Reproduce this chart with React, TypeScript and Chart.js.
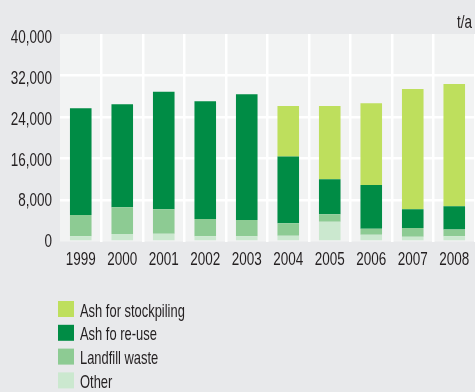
import React, { useEffect, useRef } from "react";
import { Chart, registerables } from "chart.js";

Chart.register(...registerables);

const years = ["1999", "2000", "2001", "2002", "2003", "2004", "2005", "2006", "2007", "2008"];
const other = [1000, 1450, 1500, 1000, 1000, 1100, 3800, 1300, 900, 1000];
const landfill = [4100, 5150, 4700, 3350, 3150, 2400, 1450, 1150, 1700, 1300];
const reuse = [20580, 19850, 22680, 22680, 24230, 12900, 6750, 8450, 3600, 4500];
const stockpiling = [0, 0, 0, 0, 0, 9700, 14100, 15750, 23200, 23550];
const yTicks = [0, 8000, 16000, 24000, 32000, 40000];
const unitLabel = "t/a";

const FONT = "'Liberation Sans', Arial, sans-serif";
const TEXT = "#231f20";

const seriesLabels = ["Other", "Landfill waste", "Ash fo re-use", "Ash for stockpiling"];
const seriesColors = ["#cbe8cf", "#8dcb93", "#008c45", "#bedf5d"];

function drawText(
  ctx: CanvasRenderingContext2D,
  text: string,
  x: number,
  y: number,
  align: CanvasTextAlign,
  sx: number
) {
  ctx.save();
  ctx.translate(x, y);
  ctx.scale(sx, 1);
  ctx.textAlign = align;
  ctx.textBaseline = "alphabetic";
  ctx.fillText(text, 0, 0);
  ctx.restore();
}

const extrasPlugin = {
  id: "extras",
  beforeDraw(chart: any) {
    const { ctx, chartArea } = chart;
    ctx.save();
    ctx.fillStyle = "#f2f3f3";
    ctx.fillRect(chartArea.left, chartArea.top, chartArea.right - chartArea.left, chartArea.bottom - chartArea.top);
    ctx.restore();
  },
  afterDraw(chart: any) {
    const { ctx, chartArea } = chart;
    const xs = chart.scales.x;
    const ys = chart.scales.y;
    ctx.save();
    ctx.font = `19px ${FONT}`;
    ctx.fillStyle = TEXT;
    yTicks.forEach((v) => {
      const y = ys.getPixelForValue(v) + (v / 40000) * 3.5 - 1.2;
      drawText(ctx, v.toLocaleString("en-US"), chartArea.left - 8, y + 6.8, "right", 0.71);
    });
    years.forEach((lab, i) => {
      drawText(ctx, lab, xs.getPixelForValue(i), chartArea.bottom + 23, "center", 0.71);
    });
    drawText(ctx, unitLabel, 457, 28, "left", 0.71);
    const order = [3, 2, 1, 0];
    order.forEach((si, i) => {
      const y = 301 + i * 23.8;
      ctx.fillStyle = seriesColors[si];
      ctx.fillRect(58, y, 16, 16);
      ctx.fillStyle = TEXT;
      drawText(ctx, seriesLabels[si], 80, y + 15.5, "left", 0.68);
    });
    ctx.restore();
  },
};

export default function App() {
  const ref = useRef<HTMLCanvasElement>(null);
  useEffect(() => {
    document.body.style.margin = "0";
    document.body.style.background = "#e8e9eb";
    const data = [other, landfill, reuse, stockpiling];
    const chart = new Chart(ref.current!, {
      type: "bar",
      data: {
        labels: years,
        datasets: data.map((d, i) => ({
          label: seriesLabels[i],
          data: d,
          backgroundColor: seriesColors[i],
          borderWidth: 0,
          categoryPercentage: 1,
          barPercentage: 0.52,
        })),
      },
      options: {
        responsive: false,
        animation: false,
        layout: { padding: { left: 0, right: 0, top: 34, bottom: 120.5 } },
        plugins: { legend: { display: false }, tooltip: { enabled: false } },
        scales: {
          x: {
            stacked: true,
            border: { display: false },
            grid: {
              offset: true,
              color: (c: any) => (c.index === 0 ? "rgba(0,0,0,0)" : "#ffffff"),
              lineWidth: 2.5,
              drawTicks: false,
            },
            ticks: { display: false },
            afterFit(scale: any) {
              scale.height = 30;
            },
          },
          y: {
            stacked: true,
            min: 0,
            max: 40000,
            border: { display: false },
            afterBuildTicks(scale: any) {
              scale.ticks = yTicks.map((v) => ({ value: v }));
            },
            grid: {
              color: (c: any) =>
                c.index === 0 || c.index === yTicks.length - 1 ? "rgba(0,0,0,0)" : "#ffffff",
              lineWidth: 2.5,
              drawTicks: false,
            },
            ticks: { display: false },
            afterFit(scale: any) {
              scale.width = 60;
            },
          },
        },
      },
      plugins: [extrasPlugin],
    });
    return () => chart.destroy();
  }, []);
  return (
    <div style={{ width: 475, height: 392, background: "#e8e9eb", overflow: "hidden" }}>
      <canvas ref={ref} width={475} height={392} style={{ display: "block" }} />
    </div>
  );
}
